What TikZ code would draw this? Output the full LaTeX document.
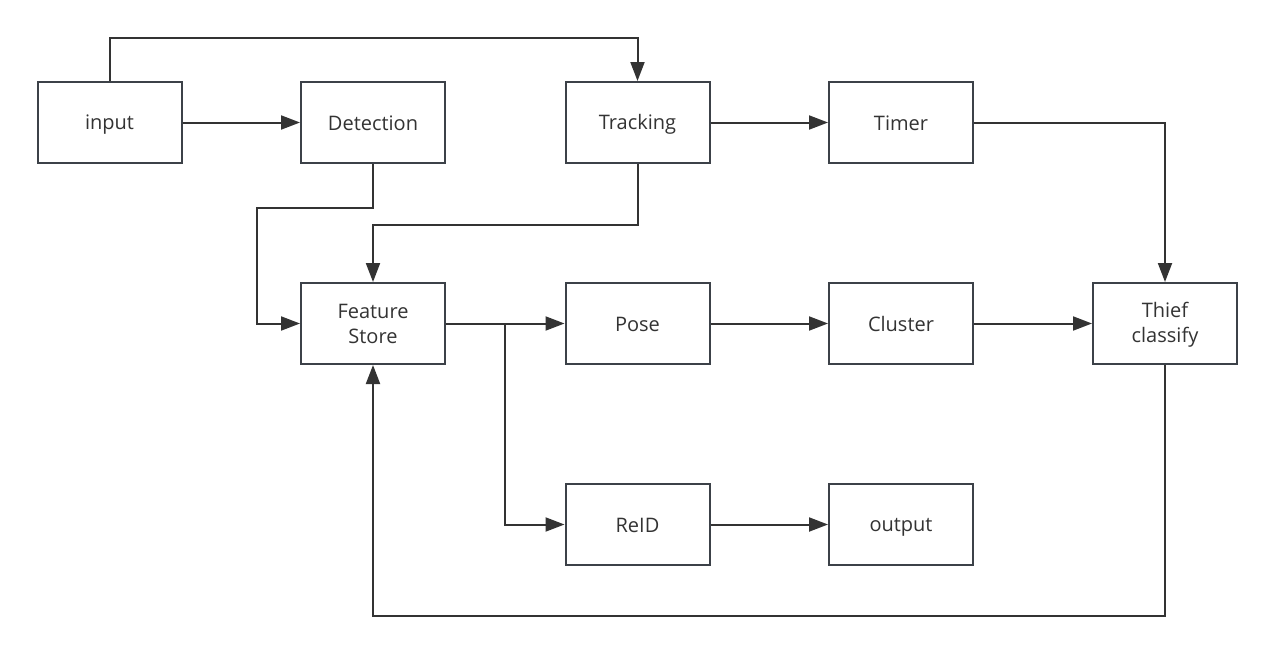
\documentclass[tikz,border=0pt]{standalone}
\usepackage{fontspec}
\setmainfont{Open Sans}
\usetikzlibrary{arrows.meta}
\definecolor{boxline}{HTML}{3C4148}
\definecolor{txt}{HTML}{333333}
\newcommand\lnstrut{\rule[-3pt]{0pt}{21pt}}
\begin{document}
\begin{tikzpicture}[x=1pt,y=-1pt,
  blk/.style={draw=boxline,line width=2pt,fill=white,minimum width=144pt,minimum height=81pt,inner sep=0pt,align=center,text=txt,font=\fontsize{20}{25}\selectfont},
  conn/.style={draw=txt,line width=2pt,-{Triangle[length=19pt,width=14pt]}}]
\useasboundingbox (0,0) rectangle (1275,653);
\fill[white] (0,0) rectangle (1275,653);
\node[blk] (input) at (109.5,122.5) {\lnstrut input};
\node[blk] (det) at (373,122.5) {\lnstrut Detection};
\node[blk] (trk) at (637.5,122.5) {\lnstrut Tracking};
\node[blk] (timer) at (901,122.5) {\lnstrut Timer};
\node[blk] (fs) at (373,323.5) {\lnstrut Feature\\\lnstrut Store};
\node[blk] (pose) at (637.5,323.5) {\lnstrut Pose};
\node[blk] (clu) at (901,323.5) {\lnstrut Cluster};
\node[blk] (thief) at (1165,323.5) {\lnstrut Thief\\\lnstrut classify};
\node[blk] (reid) at (637.5,524.5) {\lnstrut ReID};
\node[blk] (out) at (901,524.5) {\lnstrut output};
\coordinate (br) at (505,323.5);
\draw[conn] (input.north) -- (109.5,38) -| (trk.north);
\draw[conn] (input) -- (det);
\draw[conn] (trk) -- (timer);
\draw[conn] (timer.east) -| (thief.north);
\draw[conn] (det.south) |- (257,208) |- (fs.west);
\draw[conn] (trk.south) |- (373,225) -- (fs.north);
\draw[conn] (fs) -- (pose);
\draw[conn] (br) |- (reid.west);
\draw[conn] (pose) -- (clu);
\draw[conn] (clu) -- (thief);
\draw[conn] (reid) -- (out);
\draw[conn] (thief.south) |- (373,616) -- (fs.south);
\end{tikzpicture}
\end{document}
